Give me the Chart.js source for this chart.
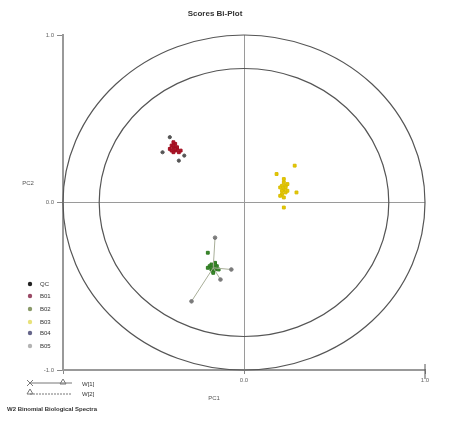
<!DOCTYPE html>
<html>
<head>
<meta charset="utf-8">
<script src="https://cdn.jsdelivr.net/npm/chart.js@4"></script>
<style>
  html, body { margin: 0; padding: 0; background: #fff; }
  #wrap { width: 451px; height: 423px; }
</style>
</head>
<body>
<div id="wrap"><canvas id="my_Canvas" width="451" height="423"></canvas></div>
<script>
// scores (PC1, PC2)
var redX = [-0.39, -0.38, -0.40, -0.37, -0.39, -0.41, -0.36, -0.38, -0.40, -0.37, -0.39, -0.35, -0.38, -0.39];
var redY = [0.33, 0.31, 0.34, 0.32, 0.30, 0.32, 0.30, 0.35, 0.31, 0.33, 0.36, 0.31, 0.32, 0.34];
var yellowX = [0.22, 0.21, 0.23, 0.22, 0.20, 0.24, 0.21, 0.23, 0.22, 0.20, 0.24, 0.22, 0.28, 0.18, 0.22, 0.29, 0.21, 0.23];
var yellowY = [0.08, 0.10, 0.06, 0.12, 0.09, 0.07, 0.05, 0.10, 0.14, 0.04, 0.11, 0.03, 0.22, 0.17, -0.03, 0.06, 0.07, 0.09];
var greenX = [-0.17, -0.18, -0.16, -0.19, -0.17, -0.15, -0.18, -0.16, -0.20, -0.17, -0.14, -0.16, -0.20, -0.18];
var greenY = [-0.39, -0.37, -0.40, -0.38, -0.41, -0.38, -0.40, -0.36, -0.39, -0.42, -0.40, -0.37, -0.30, -0.39];

// gray outliers around the red group
var redOutX = [-0.41, -0.45, -0.33, -0.36];
var redOutY = [0.39, 0.30, 0.28, 0.25];

// spokes from the green group centre
var spokeFrom = [-0.17, -0.39];
var spokeToX = [-0.16, -0.29, -0.07, -0.13];
var spokeToY = [-0.21, -0.59, -0.40, -0.46];

var ringRadii = [1.0, 0.8];
var tickValues = [-1, 0, 1];
var tickLabels = ["-1.0", "0.0", "1.0"];

var legendLabels = ["QC", "B01", "B02", "B03", "B04", "B05"];
var legendColors = ["#222222", "#9a4a66", "#8a9a6a", "#e8e27a", "#66668a", "#b4b4b4"];
var weightLabels = ["W[1]", "W[2]"];

function toPoints(xs, ys) {
    var pts = [];
    for (var i = 0; i < xs.length; i++) pts.push({x: xs[i], y: ys[i]});
    return pts;
}

var datasets = [];
for (var i = 0; i < spokeToX.length; i++) {
    datasets.push({
        type: 'line',
        data: [{x: spokeFrom[0], y: spokeFrom[1]}, {x: spokeToX[i], y: spokeToY[i]}],
        borderColor: "#a8ae98",
        borderWidth: 1,
        pointRadius: [0, 1.8],
        pointBackgroundColor: "#7a7a7a",
        pointBorderColor: "#7a7a7a",
        fill: false
    });
}
datasets.push({ data: toPoints(redOutX, redOutY), backgroundColor: "#555", borderColor: "#555", pointRadius: 1.6 });
datasets.push({ data: toPoints(redX, redY), backgroundColor: "#b0142a", borderColor: "#a01020", pointRadius: 2, pointStyle: 'rect' });
datasets.push({ data: toPoints(yellowX, yellowY), backgroundColor: "#e6c800", borderColor: "#d8bc00", pointRadius: 2, pointStyle: 'rect' });
datasets.push({ data: toPoints(greenX, greenY), backgroundColor: "#3c8a2c", borderColor: "#2f7a22", pointRadius: 2, pointStyle: 'rect' });

var decor = {
    id: 'decor',
    beforeDatasetsDraw: function(chart) {
        var ctx = chart.ctx, xs = chart.scales.x, ys = chart.scales.y;
        var cx = xs.getPixelForValue(0), cy = ys.getPixelForValue(0);
        ctx.save();
        ctx.strokeStyle = "#555";
        ctx.lineWidth = 1.2;
        ringRadii.forEach(function(r) {
            ctx.beginPath();
            ctx.ellipse(cx, cy, Math.abs(xs.getPixelForValue(r) - cx), Math.abs(ys.getPixelForValue(r) - cy), 0, 0, Math.PI * 2);
            ctx.stroke();
        });
        ctx.restore();
    },
    afterDraw: function(chart) {
        var ctx = chart.ctx, xs = chart.scales.x, ys = chart.scales.y;
        ctx.save();
        ctx.fillStyle = "#333";
        ctx.font = "bold 8px 'Liberation Sans', Arial, sans-serif";
        ctx.textAlign = "center";
        ctx.textBaseline = "middle";
        ctx.fillText("Scores Bi-Plot", 215, 14);
        ctx.font = "6px 'Liberation Sans', Arial, sans-serif";
        ctx.fillStyle = "#555";
        ctx.fillText("PC2", 28, 183);
        ctx.fillText("PC1", 214, 398);
        // right end marker of x axis
        ctx.strokeStyle = "#555";
        ctx.beginPath();
        ctx.moveTo(xs.right, ys.bottom - 6);
        ctx.lineTo(xs.right, ys.bottom + 9);
        ctx.stroke();
        // group legend
        ctx.textAlign = "left";
        var ly = [284, 296, 309, 322, 333, 346];
        for (var i = 0; i < legendLabels.length; i++) {
            ctx.fillStyle = legendColors[i];
            ctx.beginPath();
            ctx.arc(30, ly[i], 2.2, 0, Math.PI * 2);
            ctx.fill();
            ctx.fillStyle = "#333";
            ctx.fillText(legendLabels[i], 40, ly[i]);
        }
        // weights legend
        ctx.strokeStyle = "#777";
        ctx.beginPath();
        ctx.moveTo(30, 383); ctx.lineTo(72, 383);
        ctx.stroke();
        ctx.beginPath();
        ctx.moveTo(27, 380); ctx.lineTo(33, 386);
        ctx.moveTo(33, 380); ctx.lineTo(27, 386);
        ctx.stroke();
        ctx.beginPath();
        ctx.moveTo(63, 379); ctx.lineTo(60, 384); ctx.lineTo(66, 384); ctx.closePath();
        ctx.stroke();
        ctx.setLineDash([2, 1]);
        ctx.beginPath();
        ctx.moveTo(30, 394); ctx.lineTo(72, 394);
        ctx.stroke();
        ctx.setLineDash([]);
        ctx.beginPath();
        ctx.moveTo(30, 389); ctx.lineTo(27, 394); ctx.lineTo(33, 394); ctx.closePath();
        ctx.stroke();
        ctx.fillStyle = "#333";
        ctx.fillText(weightLabels[0], 82, 384);
        ctx.fillText(weightLabels[1], 82, 394);
        ctx.font = "bold 6px 'Liberation Sans', Arial, sans-serif";
        ctx.fillText("W2 Binomial Biological Spectra", 7, 409);
        ctx.restore();
    }
};

var canvas = document.getElementById('my_Canvas').getContext('2d');
var myChart = new Chart(canvas, {
    type: 'scatter',
    data: { datasets: datasets },
    options: {
        responsive: false,
        animation: false,
        layout: { padding: { top: 35, right: 26, left: 0, bottom: 0 } },
        plugins: { legend: { display: false }, tooltip: { enabled: false } },
        scales: {
            x: {
                type: 'linear', min: -1, max: 1,
                afterBuildTicks: function(s) { s.ticks = tickValues.map(function(v) { return {value: v}; }); },
                afterFit: function(s) { s.height = 53; },
                ticks: {
                    font: { size: 6 }, color: "#666",
                    callback: function(v, i) { return i === 0 ? "" : tickLabels[i]; }
                },
                grid: {
                    color: function(c) { return c.tick && c.tick.value === 0 ? "#9a9a9a" : "rgba(0,0,0,0)"; },
                    drawTicks: true, tickLength: 4, tickColor: "#888"
                },
                border: { display: true, color: "#999", width: 2 }
            },
            y: {
                type: 'linear', min: -1, max: 1,
                afterBuildTicks: function(s) { s.ticks = tickValues.map(function(v) { return {value: v}; }); },
                afterFit: function(s) { s.width = 63; },
                ticks: {
                    font: { size: 6 }, color: "#666",
                    callback: function(v, i) { return tickLabels[i]; }
                },
                grid: {
                    color: function(c) { return c.tick && c.tick.value === 0 ? "#9a9a9a" : "rgba(0,0,0,0)"; },
                    drawTicks: true, tickLength: 6, tickColor: "#888"
                },
                border: { display: true, color: "#999", width: 2 }
            }
        }
    },
    plugins: [decor]
});
</script>
</body>
</html>
